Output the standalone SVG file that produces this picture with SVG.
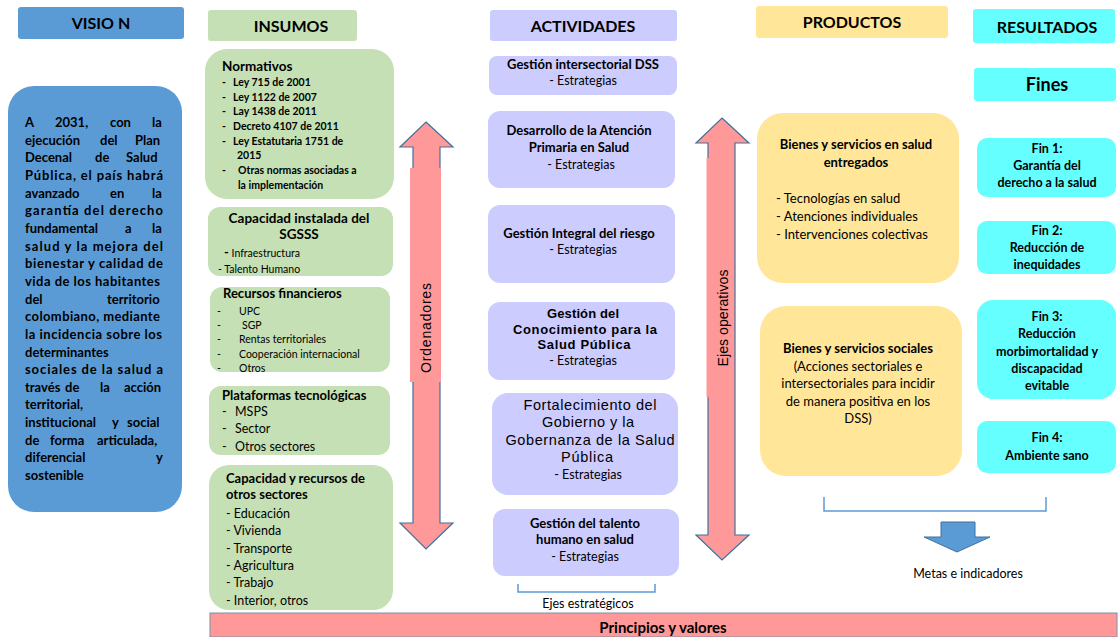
<svg xmlns="http://www.w3.org/2000/svg" width="1118" height="637" viewBox="0 0 1118 637">
<style>
text{font-family:Lato,"Liberation Sans",sans-serif;fill:#000}
.b{font-weight:bold}
.a{font-family:"Liberation Sans",Arial,sans-serif}
.c{text-anchor:middle}
.h{font-size:16px;font-weight:bold;text-anchor:middle}
.vis{fill:#5B9BD5}
.grn{fill:#C5E0B4}
.lav{fill:#CCCCFF}
.yel{fill:#FFE699}
.cyn{fill:#66FFFF}
.pink{fill:#FF9999}
.arr{fill:#FF9999;stroke:#41719C;stroke-width:1.2}
.brk{fill:none;stroke:#5B9BD5;stroke-width:1.5}
.vt{font-size:13px;font-weight:bold}
.s10{font-size:10.5px}
.s12{font-size:12.5px}
.s13{font-size:13px}
</style>

<g id="headers">
  <rect x="18" y="7" width="166" height="32" rx="3" class="vis"/>
  <text x="101" y="29" class="h">VISIO N</text>
  <rect x="208" y="10" width="149" height="31" rx="3" class="grn"/>
  <text x="291" y="32" class="h">INSUMOS</text>
  <rect x="490" y="10" width="187" height="31" rx="3" class="lav"/>
  <text x="583" y="32" class="h">ACTIVIDADES</text>
  <rect x="756" y="6" width="192" height="32" rx="3" class="yel"/>
  <text x="852" y="28" class="h">PRODUCTOS</text>
  <rect x="973" y="9" width="142" height="34" rx="3" class="cyn"/>
  <text x="1047" y="33" class="h">RESULTADOS</text>
  <rect x="974" y="68" width="142" height="33" rx="3" class="cyn"/>
  <text x="1047" y="91" class="h" style="font-size:18px">Fines</text>
</g>

<g id="vision">
  <rect x="8" y="86" width="174" height="426" rx="26" class="vis"/>
  <g class="vt">
    <text y="127"><tspan x="25">A</tspan><tspan x="55">2031,</tspan><tspan x="110">con</tspan><tspan x="152">la</tspan></text>
    <text y="144.6"><tspan x="25">ejecución</tspan><tspan x="100">del</tspan><tspan x="135">Plan</tspan></text>
    <text y="162.3"><tspan x="25">Decenal</tspan><tspan x="95">de</tspan><tspan x="126">Salud</tspan></text>
    <text x="25" y="180" textLength="138" lengthAdjust="spacing">Pública, el país habrá</text>
    <text y="197.6"><tspan x="25">avanzado</tspan><tspan x="110">en</tspan><tspan x="152">la</tspan></text>
    <text x="25" y="215.3" textLength="138" lengthAdjust="spacing">garantía del derecho</text>
    <text y="232.9"><tspan x="25">fundamental</tspan><tspan x="125">a</tspan><tspan x="152">la</tspan></text>
    <text x="25" y="250.6" textLength="138" lengthAdjust="spacing">salud y la mejora del</text>
    <text x="25" y="268.2" textLength="138" lengthAdjust="spacing">bienestar y calidad de</text>
    <text x="25" y="285.9" textLength="135" lengthAdjust="spacing">vida de los habitantes</text>
    <text y="303.5"><tspan x="25">del</tspan><tspan x="107">territorio</tspan></text>
    <text x="25" y="321.2" textLength="135" lengthAdjust="spacing">colombiano, mediante</text>
    <text x="25" y="338.8" textLength="137" lengthAdjust="spacing">la incidencia sobre los</text>
    <text x="25" y="356.5">determinantes</text>
    <text x="25" y="374.1" textLength="138" lengthAdjust="spacing">sociales de la salud a</text>
    <text y="391.8"><tspan x="25">través</tspan><tspan x="65">de</tspan><tspan x="100">la</tspan><tspan x="124">acción</tspan></text>
    <text x="25" y="409.4">territorial,</text>
    <text y="427"><tspan x="25">institucional</tspan><tspan x="112">y</tspan><tspan x="127">social</tspan></text>
    <text y="444.7"><tspan x="25">de</tspan><tspan x="50">forma</tspan><tspan x="97">articulada,</tspan></text>
    <text y="462.4"><tspan x="25">diferencial</tspan><tspan x="156">y</tspan></text>
    <text x="25" y="480">sostenible</text>
  </g>
</g>

<g id="insumo-normativos">
  <rect x="205" y="49" width="189" height="150" rx="22" class="grn"/>
  <text x="222" y="71" class="b" style="font-size:13.5px">Normativos</text>
  <g class="b s10">
    <text x="222" y="86">-</text><text x="233" y="86">Ley 715 de 2001</text>
    <text x="222" y="101">-</text><text x="233" y="101">Ley 1122 de 2007</text>
    <text x="222" y="115">-</text><text x="233" y="115">Lay 1438 de 2011</text>
    <text x="222" y="130">-</text><text x="233" y="130">Decreto 4107 de 2011</text>
    <text x="222" y="145">-</text><text x="233" y="145">Ley Estatutaria 1751 de</text>
    <text x="237" y="159">2015</text>
    <text x="222" y="174">-</text><text x="238" y="174">Otras normas asociadas a</text>
    <text x="238" y="189">la implementación</text>
  </g>
</g>

<g id="insumo-capacidad">
  <rect x="208" y="207" width="185" height="69" rx="12" class="grn"/>
  <text x="299" y="223" class="b c" style="font-size:13.5px">Capacidad  instalada del</text>
  <text x="299" y="239" class="b c" style="font-size:13.5px">SGSSS</text>
  <text x="224" y="257" class="s10"><tspan class="b" style="font-size:13px">-</tspan> Infraestructura</text>
  <text x="218" y="273" class="s10">- Talento Humano</text>
</g>

<g id="insumo-recursos">
  <rect x="210" y="287" width="180" height="85" rx="12" class="grn"/>
  <text x="223" y="298" class="b s13">Recursos financieros</text>
  <g class="s10">
    <text x="217" y="315">-</text><text x="239" y="315">UPC</text>
    <text x="217" y="329">-</text><text x="242" y="329">SGP</text>
    <text x="217" y="343">-</text><text x="239" y="343">Rentas territoriales</text>
    <text x="217" y="358">-</text><text x="239" y="358">Cooperación internacional</text>
    <text x="217" y="372">-</text><text x="239" y="372">Otros</text>
  </g>
</g>

<g id="insumo-plataformas">
  <rect x="209" y="386" width="181" height="69" rx="12" class="grn"/>
  <text x="222" y="400" class="b s13">Plataformas tecnológicas</text>
  <g class="s12">
    <text x="222" y="416">-</text><text x="235" y="416">MSPS</text>
    <text x="222" y="433">-</text><text x="235" y="433">Sector</text>
    <text x="222" y="451">-</text><text x="235" y="451">Otros sectores</text>
  </g>
</g>

<g id="insumo-otros">
  <rect x="209" y="465" width="184" height="145" rx="20" class="grn"/>
  <text x="226" y="483" class="b s13">Capacidad y recursos de</text>
  <text x="226" y="499" class="b s13">otros sectores</text>
  <g class="s12">
    <text x="226" y="518">- Educación</text>
    <text x="226" y="535">- Vivienda</text>
    <text x="226" y="553">- Transporte</text>
    <text x="226" y="570">-  Agricultura</text>
    <text x="226" y="587">- Trabajo</text>
    <text x="226" y="605">-  Interior, otros</text>
  </g>
</g>

<g id="act-intersectorial">
  <rect x="489" y="56" width="188" height="39" rx="8" class="lav"/>
  <text x="583" y="69" class="b c s13">Gestión intersectorial DSS</text>
  <text x="583" y="85" class="c s12">- Estrategias</text>
</g>

<g id="act-aps">
  <rect x="488" y="111" width="187" height="77" rx="12" class="lav"/>
  <text x="579" y="135" class="b c s13">Desarrollo de la Atención</text>
  <text x="579" y="152" class="b c s13">Primaria en Salud</text>
  <text x="581" y="169" class="c s12">- Estrategias</text>
</g>

<g id="act-riesgo">
  <rect x="488" y="205" width="187" height="78" rx="12" class="lav"/>
  <text x="579" y="238" class="b c s13">Gestión Integral del riesgo</text>
  <text x="583" y="254" class="c s12">- Estrategias</text>
</g>

<g id="act-conocimiento">
  <rect x="488" y="302" width="187" height="78" rx="12" class="lav"/>
  <text x="583" y="318" class="a b c" style="font-size:13px" textLength="72" lengthAdjust="spacing">Gestión del</text>
  <text x="585" y="334" class="a b c" style="font-size:13px" textLength="144" lengthAdjust="spacing">Conocimiento para la</text>
  <text x="584" y="349" class="a b c" style="font-size:13px" textLength="93" lengthAdjust="spacing">Salud Pública</text>
  <text x="583" y="365" class="c s12">- Estrategias</text>
</g>

<g id="act-gobierno">
  <rect x="492" y="393" width="186" height="102" rx="16" class="lav"/>
  <text x="590" y="410" class="a c" style="font-size:14.5px" textLength="133" lengthAdjust="spacing">Fortalecimiento del</text>
  <text x="588" y="427" class="a c" style="font-size:14.5px" textLength="92" lengthAdjust="spacing">Gobierno y la</text>
  <text x="590" y="445" class="a c" style="font-size:14.5px" textLength="169" lengthAdjust="spacing">Gobernanza de la Salud</text>
  <text x="587" y="462" class="a c" style="font-size:14.5px" textLength="52" lengthAdjust="spacing">Pública</text>
  <text x="588" y="479" class="c s12">- Estrategias</text>
</g>

<g id="act-talento">
  <rect x="493" y="509" width="186" height="67" rx="12" class="lav"/>
  <text x="585" y="528" class="b c s13">Gestión del talento</text>
  <text x="585" y="544" class="b c s13">humano  en salud</text>
  <text x="585" y="561" class="c s12">- Estrategias</text>
</g>

<g id="prod-salud">
  <rect x="757" y="113" width="202" height="170" rx="26" class="yel"/>
  <text x="856" y="149" class="b c s13">Bienes y servicios en salud</text>
  <text x="856" y="167" class="b c s13">entregados</text>
  <g class="s13">
    <text x="776" y="203">- Tecnologías en salud</text>
    <text x="776" y="221">- Atenciones individuales</text>
    <text x="776" y="239">- Intervenciones colectivas</text>
  </g>
</g>

<g id="prod-sociales">
  <rect x="760" y="306" width="202" height="170" rx="26" class="yel"/>
  <text x="858" y="353" class="b c s13">Bienes y servicios sociales</text>
  <g class="c s13">
    <text x="858" y="371">(Acciones sectoriales e</text>
    <text x="858" y="388">intersectoriales para incidir</text>
    <text x="858" y="406">de manera positiva en los</text>
    <text x="858" y="423">DSS)</text>
  </g>
</g>

<g id="fin1">
  <rect x="977" y="138" width="139" height="59" rx="10" class="cyn"/>
  <g class="b c" style="font-size:12.5px">
    <text x="1047" y="153">Fin 1:</text>
    <text x="1047" y="170">Garantía del</text>
    <text x="1047" y="187">derecho a la salud</text>
  </g>
</g>
<g id="fin2">
  <rect x="977" y="221" width="139" height="53" rx="10" class="cyn"/>
  <g class="b c" style="font-size:12.5px">
    <text x="1047" y="235">Fin 2:</text>
    <text x="1047" y="252">Reducción  de</text>
    <text x="1047" y="269">inequidades</text>
  </g>
</g>
<g id="fin3">
  <rect x="977" y="300" width="139" height="99" rx="16" class="cyn"/>
  <g class="b c" style="font-size:12.5px">
    <text x="1047" y="321">Fin 3:</text>
    <text x="1047" y="338">Reducción</text>
    <text x="1047" y="356">morbimortalidad y</text>
    <text x="1047" y="373">discapacidad</text>
    <text x="1047" y="390">evitable</text>
  </g>
</g>
<g id="fin4">
  <rect x="977" y="421" width="139" height="52" rx="10" class="cyn"/>
  <g class="b c" style="font-size:12.5px">
    <text x="1047" y="442">Fin 4:</text>
    <text x="1047" y="460">Ambiente  sano</text>
  </g>
</g>

<g id="connectors">
  <path class="arr" d="M426,122 L453,147 L440,147 L440,523 L453,523 L426,549 L400,523 L413,523 L413,147 L400,147 Z"/>
  <rect x="410" y="168" width="31" height="214" class="pink"/>
  <text transform="translate(431,328) rotate(-90)" class="a c" style="font-size:14px" textLength="90" lengthAdjust="spacing">Ordenadores</text>

  <path class="arr" d="M722,118 L749,143 L735,143 L735,535 L749,535 L722,560 L696,535 L708,535 L708,143 L696,143 Z"/>
  <rect x="706.5" y="158" width="22" height="239" class="pink"/>
  <text transform="translate(728,318) rotate(-90)" class="a c" style="font-size:14px" textLength="97" lengthAdjust="spacing">Ejes operativos</text>

  <path class="brk" d="M518,584 V592 H655 V584"/>
  <text x="588" y="608" class="c s12">Ejes estratégicos</text>

  <path class="brk" d="M824,497 V511 H1046 V497"/>
  <path d="M941,522 H975 V537 H990 L957,552 L924,537 H941 Z" fill="#5B9BD5" stroke="#41719C" stroke-width="1"/>
  <text x="968" y="578" class="c s12">Metas e indicadores</text>
</g>

<g id="principios">
  <rect x="210" y="613" width="907" height="24" class="pink" stroke="#7F8FA6" stroke-width="1"/>
  <text x="663" y="633" class="b c" style="font-size:15px">Principios y valores</text>
</g>
</svg>
